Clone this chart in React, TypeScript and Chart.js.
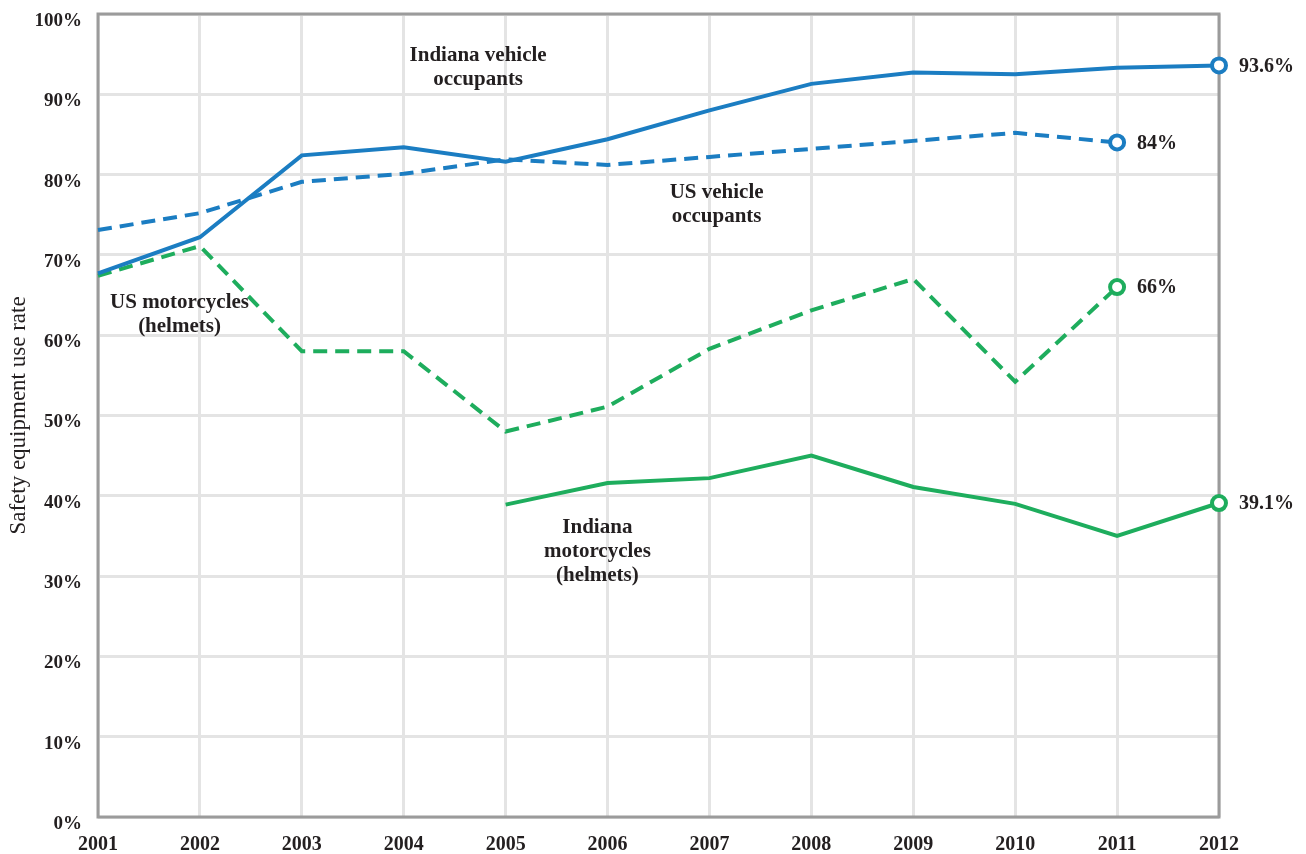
import React, { useEffect, useRef } from "react";
import { Chart, registerables } from "chart.js";

Chart.register(...registerables);

const years = ["2001", "2002", "2003", "2004", "2005", "2006", "2007", "2008", "2009", "2010", "2011", "2012"];
const indianaVehicle = [67.7, 72.2, 82.4, 83.4, 81.6, 84.4, 88.0, 91.3, 92.7, 92.5, 93.3, 93.6];
const usVehicle = [73.1, 75.2, 79.1, 80.1, 81.9, 81.2, 82.2, 83.2, 84.2, 85.2, 84, null];
const usMoto = [67.4, 71.1, 58.0, 58.0, 48.0, 51.1, 58.3, 63.1, 67.0, 54.2, 66, null];
const indianaMoto = [null, null, null, null, 38.9, 41.6, 42.2, 45.0, 41.1, 39.0, 35.0, 39.1];
const endLabels = ["93.6%", "84%", "66%", "39.1%"];

const BLUE = "#1b7dc2";
const GREEN = "#1ead5d";
const FONT = "'Liberation Serif', 'DejaVu Serif', serif";

// text annotations anchored in data coordinates (category index, percent)
const notes = [
  { lines: ["Indiana vehicle", "occupants"], x: 3.73, y: 94.8 },
  { lines: ["US vehicle", "occupants"], x: 6.07, y: 77.7 },
  { lines: ["US motorcycles", "(helmets)"], x: 0.8, y: 64.1 },
  { lines: ["Indiana", "motorcycles", "(helmets)"], x: 4.9, y: 36.1 },
];

function lastIndex(arr: (number | null)[]) {
  for (let i = arr.length - 1; i >= 0; i--) if (arr[i] !== null) return i;
  return -1;
}

function radii(arr: (number | null)[]) {
  const li = lastIndex(arr);
  return arr.map((_, i) => (i === li ? 7 : 0));
}

export default function App() {
  const ref = useRef<HTMLCanvasElement>(null);
  useEffect(() => {
    if (!ref.current) return;
    const frame = {
      id: "frame",
      beforeDatasetsDraw(chart: any) {
        const { ctx, chartArea: a } = chart;
        ctx.save();
        ctx.strokeStyle = "#9b9b9b";
        ctx.lineWidth = 3;
        ctx.strokeRect(a.left, a.top, a.right - a.left, a.bottom - a.top);
        ctx.restore();
      },
      afterDatasetsDraw(chart: any) {
        const { ctx } = chart;
        const xs = chart.scales.x;
        const ys = chart.scales.y;
        ctx.save();
        ctx.fillStyle = "#231f20";
        ctx.font = `bold 21px ${FONT}`;
        ctx.textAlign = "center";
        ctx.textBaseline = "middle";
        notes.forEach((n) => {
          const px = xs.getPixelForValue(n.x);
          const py = ys.getPixelForValue(n.y);
          n.lines.forEach((t, i) => ctx.fillText(t, px, py + i * 24));
        });
        ctx.font = `bold 20px ${FONT}`;
        ctx.textAlign = "left";
        chart.data.datasets.forEach((ds: any, di: number) => {
          const li = lastIndex(ds.data);
          const px = xs.getPixelForValue(li);
          const py = ys.getPixelForValue(ds.data[li]);
          ctx.fillText(endLabels[di], px + 20, py + 1);
        });
        ctx.restore();
      },
    };
    const mk = (label: string, data: (number | null)[], color: string, dashed: boolean) => ({
      label,
      data,
      borderColor: color,
      backgroundColor: color,
      borderWidth: 4,
      borderDash: dashed ? [14, 8] : [],
      pointRadius: radii(data),
      pointHoverRadius: radii(data),
      pointBackgroundColor: "#ffffff",
      pointBorderColor: color,
      pointBorderWidth: 4,
      tension: 0,
      spanGaps: false,
    });
    const chart = new Chart(ref.current, {
      type: "line",
      data: {
        labels: years,
        datasets: [
          mk("Indiana vehicle occupants", indianaVehicle, BLUE, false),
          mk("US vehicle occupants", usVehicle, BLUE, true),
          mk("US motorcycles (helmets)", usMoto, GREEN, true),
          mk("Indiana motorcycles (helmets)", indianaMoto, GREEN, false),
        ],
      },
      options: {
        animation: false,
        responsive: false,
        layout: { autoPadding: false, padding: { top: 14, right: 87, bottom: 0, left: 0 } },
        plugins: { legend: { display: false }, tooltip: { enabled: false } },
        scales: {
          x: {
            offset: false,
            grid: { color: "#e4e4e4", lineWidth: 3, drawTicks: false },
            border: { display: false },
            ticks: {
              color: "#231f20",
              font: { family: FONT, size: 20, weight: "bold" },
              padding: 16,
              autoSkip: false,
              maxRotation: 0,
            },
            afterFit: (s: any) => {
              s.height = 37;
              s.paddingLeft = 0;
              s.paddingRight = 0;
            },
          },
          y: {
            min: 0,
            max: 100,
            grid: { color: "#e4e4e4", lineWidth: 3, drawTicks: false },
            border: { display: false },
            ticks: {
              stepSize: 10,
              color: "#231f20",
              font: { family: FONT, size: 19, weight: "bold" },
              padding: 16,
              labelOffset: 7,
              callback: (v: any) => `${v}%`,
            },
            title: {
              display: true,
              text: "Safety equipment use rate",
              color: "#231f20",
              font: { family: FONT, size: 23, weight: "normal" },
              padding: { top: 5, bottom: 0 },
            },
            afterFit: (s: any) => {
              s.width = 98;
              s.paddingTop = 0;
              s.paddingBottom = 0;
            },
          },
        },
      },
      plugins: [frame],
    });
    return () => chart.destroy();
  }, []);
  return (
    <div style={{ position: "absolute", left: 0, top: 0, width: 1306, height: 854, background: "#fff" }}>
      <canvas ref={ref} width={1306} height={854} style={{ display: "block" }} />
    </div>
  );
}
